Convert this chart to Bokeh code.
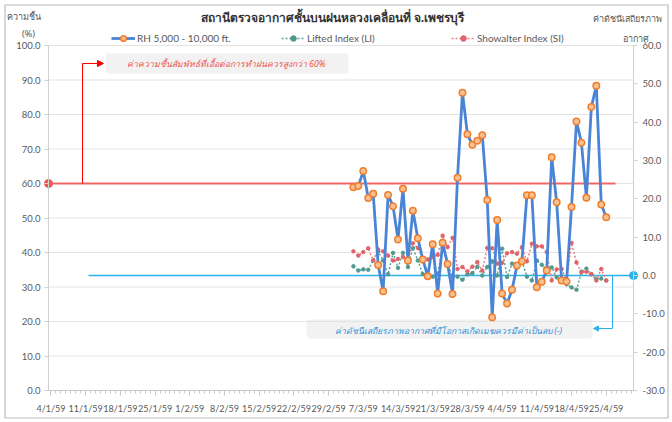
import pandas as pd
from bokeh.plotting import figure
from bokeh.models import (Range1d, LinearAxis, FixedTicker, NumeralTickFormatter,
                          Legend, LegendItem, Label, BoxAnnotation, Arrow,
                          NormalHead, ColumnDataSource)
from bokeh.embed import file_html
from bokeh.resources import INLINE

# ---------------- data ----------------
axis_start = "2016-01-04"          # 4/1/59 (B.E. 2559)
obs_dates = pd.date_range("2016-03-05", "2016-04-25")   # 5/3/59 .. 25/4/59, daily

rh = [58.9, 59.3, 63.6, 55.8, 57.0, 36.4, 28.8, 56.7, 53.4, 43.8,
      58.5, 37.7, 52.1, 44.1, 38.0, 33.1, 42.4, 28.1, 42.8, 36.7,
      28.0, 61.7, 86.3, 74.3, 71.2, 72.4, 74.0, 55.2, 21.2, 49.4,
      28.1, 25.2, 29.2, 36.2, 37.5, 56.6, 56.6, 29.9, 31.5, 34.8,
      67.6, 54.6, 31.9, 31.6, 53.2, 78.0, 71.8, 55.9, 82.2, 88.3,
      53.9, 50.2]

li = [2.4, 1.3, 1.6, 1.5, 3.9, 6.3, 3.9, 0.3, 5.9, 2.0,
      5.9, 2.2, 7.2, 3.9, 0.4, 0.0, -0.3, 0.4, 7.2, 3.1,
      -0.4, -0.3, -1.1, 0.3, 0.6, 2.3, 0.0, 2.2, 3.7, 0.0,
      7.0, -0.4, 3.1, 2.6, 3.7, -0.3, -1.3, 3.9, 2.8, 1.5,
      2.1, -0.5, -1.3, -2.3, -3.1, -3.7, 1.0, 1.8, 0.3, -0.9,
      -0.8, -1.3]

si = [6.3, 5.2, 6.1, 7.1, 3.9, 6.8, 6.3, 5.2, 3.9, 4.3,
      4.8, 4.1, 8.4, 7.2, 4.4, 4.2, 4.8, 5.4, 10.4, 7.4,
      9.8, 1.7, 2.2, 1.1, 2.3, 3.5, 1.3, 7.2, 7.1, 3.1,
      3.3, 5.8, 6.1, 5.7, 7.4, 3.7, 8.3, 7.6, 7.6, 6.1,
      -1.3, 1.6, 1.7, -1.3, 8.5, 3.4, 0.8, 1.0, 0.4, -1.3,
      1.7, -1.3]

tick_labels = ["4/1/59", "11/1/59", "18/1/59", "25/1/59", "1/2/59", "8/2/59",
               "15/2/59", "22/2/59", "29/2/59", "7/3/59", "14/3/59", "21/3/59",
               "28/3/59", "4/4/59", "11/4/59", "18/4/59", "25/4/59"]
left_ticks = [0, 10, 20, 30, 40, 50, 60, 70, 80, 90, 100]
right_ticks = [-30, -20, -10, 0, 10, 20, 30, 40, 50, 60]

rh_threshold = 60      # %
index_threshold = 0    # stability index

title_text = "สถานีตรวจอากาศชั้นบนฝนหลวงเคลื่อนที่ จ.เพชรบุรี"
note_rh = "ค่าความชื้นสัมพัทธ์ที่เอื้อต่อการทำฝนควรสูงกว่า  60%"
note_idx = "ค่าดัชนีเสถียรภาพอากาศที่มีโอกาสเกิดเมฆควรมีค่าเป็นลบ (-)"

# --------------- layout helpers (pixel layout of the 672x422 canvas) ---------------
W, H = 672, 422
FL, FR, FT, FB = 48, 633, 45, 390          # plot area edges in px
n_days = 118
XS = (FR - FL) / n_days                   # px per day
YS = (FB - FT) / 100.0                    # px per % (left)
RS = (FB - FT) / 90.0                     # px per index unit (right)
x_lo, x_hi = -0.5 - FL / XS, n_days - 0.5 + (W - FR) / XS
y_top, y_bot = FB / YS, -(H - FB) / YS
r_top, r_bot = -30 + FB / RS, -30 - (H - FB) / RS


def dx(px):
    return x_lo + px / XS


def dy(py):
    return y_top - py / YS


def dr(py):
    return r_top - py / RS


t0 = pd.Timestamp(axis_start)
xday = [(d - t0).days for d in obs_dates]
src = ColumnDataSource(dict(x=xday, rh=rh, li=li, si=si))

FONT = "Lato"
TH_FONT = "Noto Sans"
GREY = "#595959"
AX = "#d0d0d0"

p = figure(width=W, height=H, output_backend="svg", toolbar_location=None,
           x_range=Range1d(x_lo, x_hi), y_range=Range1d(y_bot, y_top),
           x_axis_type=None, y_axis_type=None, min_border=0,
           background_fill_color="white", border_fill_color="white")
p.outline_line_color = None
p.extra_y_ranges = {"idx": Range1d(r_bot, r_top)}

# chart border
p.quad(left=[dx(4.5)], right=[dx(667.5)], top=[dy(4.5)], bottom=[dy(417.5)],
       fill_color=None, line_color="#bdbdbd", line_width=1.2)

# horizontal gridlines (left axis ticks)
p.segment(x0=[-0.5] * len(left_ticks), x1=[n_days - 0.5] * len(left_ticks),
          y0=left_ticks, y1=left_ticks, line_color="#e3e3e3", line_width=1)

# x axis
xa = LinearAxis(fixed_location=0, bounds=(-0.5, n_days - 0.5),
                ticker=FixedTicker(ticks=[7 * i for i in range(len(tick_labels))],
                                   minor_ticks=list(range(0, n_days))))
xa.major_label_overrides = {7 * i: lab for i, lab in enumerate(tick_labels)}
xa.axis_line_color = "#c8c8c8"
xa.major_tick_line_color = "#c8c8c8"
xa.minor_tick_line_color = "#c8c8c8"
xa.major_tick_out = 5
xa.major_tick_in = 0
xa.minor_tick_out = 3
xa.minor_tick_in = 0
xa.major_label_standoff = 7
xa.major_label_text_font = FONT
xa.major_label_text_font_size = "9px"
xa.major_label_text_color = GREY
p.add_layout(xa, "below")

# left axis
ya = LinearAxis(fixed_location=-0.5, bounds=(0, 100), ticker=FixedTicker(ticks=left_ticks),
                formatter=NumeralTickFormatter(format="0.0"))
ya.axis_line_color = AX
ya.major_tick_line_color = AX
ya.major_tick_out = 4
ya.major_tick_in = 0
ya.minor_tick_line_color = None
ya.major_label_standoff = 4
ya.major_label_text_font = FONT
ya.major_label_text_font_size = "9.5px"
ya.major_label_text_color = GREY
p.add_layout(ya, "left")

# right axis
ra = LinearAxis(y_range_name="idx", fixed_location=n_days - 0.5, bounds=(-30, 60),
                ticker=FixedTicker(ticks=right_ticks),
                formatter=NumeralTickFormatter(format="0.0"))
ra.axis_line_color = AX
ra.major_tick_line_color = AX
ra.major_tick_out = 4
ra.major_tick_in = 0
ra.minor_tick_line_color = None
ra.major_label_standoff = 5
ra.major_label_text_font = FONT
ra.major_label_text_font_size = "9.5px"
ra.major_label_text_color = GREY
p.add_layout(ra, "right")

# ------------- reference lines -------------
RED = "#f25757"
BLUE = "#2cb2ea"
p.line(x=[-0.5, dx(615)], y=[rh_threshold, rh_threshold], line_color=RED, line_width=2,
       line_alpha=0.9)
p.scatter(x=[-0.5], y=[rh_threshold], size=8, color=RED)
p.line(x=[dx(88), n_days - 0.5], y=[index_threshold, index_threshold], y_range_name="idx",
       line_color=BLUE, line_width=1.6)
p.scatter(x=[n_days - 0.5], y=[index_threshold], y_range_name="idx", size=8, color=BLUE)

# ------------- notes -------------
p.add_layout(BoxAnnotation(left=dx(105), right=dx(348), bottom=dy(73), top=dy(53),
                           fill_color="#f2f2f2", fill_alpha=1, line_color=None,
                           border_radius=3, level="underlay"))
p.add_layout(Label(x=dx(227), y=dy(63), text=note_rh, text_font=TH_FONT, text_font_size="8.6px",
                   text_font_style="italic", text_color="#f04e4e",
                   text_align="center", text_baseline="middle"))
p.segment(x0=[dx(82)], y0=[rh_threshold], x1=[dx(82)], y1=[dy(63)], line_color="red",
          line_width=1)
p.add_layout(Arrow(x_start=dx(82), y_start=dy(63), x_end=dx(103), y_end=dy(63),
                   line_color="red", line_width=1,
                   end=NormalHead(size=6, fill_color="red", line_color="red")))

p.add_layout(BoxAnnotation(left=dx(306), right=dx(592), bottom=dr(338), top=dr(319),
                           y_range_name="idx", fill_color="#f2f2f2", fill_alpha=1,
                           line_color=None, border_radius=3, level="underlay"))
p.add_layout(Label(x=dx(448), y=dr(330), y_range_name="idx", text=note_idx, text_font=TH_FONT,
                   text_font_size="8.6px", text_font_style="italic", text_color="#2a8fd8",
                   text_align="center", text_baseline="middle"))
p.segment(x0=[dx(612)], y0=[index_threshold], x1=[dx(612)], y1=[dr(328)], y_range_name="idx",
          line_color=BLUE, line_width=1)
p.add_layout(Arrow(x_start=dx(612), y_start=dr(328), x_end=dx(593), y_end=dr(328),
                   y_range_name="idx", line_color=BLUE, line_width=1,
                   end=NormalHead(size=5, fill_color=BLUE, line_color=BLUE)))

# ------------- series -------------
li_line = p.line("x", "li", source=src, y_range_name="idx", line_color="#5aa59b",
                 line_width=1.5, line_dash="2 2")
li_pts = p.scatter("x", "li", source=src, y_range_name="idx", size=3.5, color="#4f9a8f")
si_line = p.line("x", "si", source=src, y_range_name="idx", line_color="#ec7f84",
                 line_width=1.5, line_dash="2 2")
si_pts = p.scatter("x", "si", source=src, y_range_name="idx", size=3.5, color="#e0636a")
rh_line = p.line("x", "rh", source=src, line_color="#4a84d6", line_width=2.8)
rh_pts = p.scatter("x", "rh", source=src, size=6.5, fill_color="#f9c08f",
                   line_color="#ee7d2e", line_width=1.5)

# ------------- titles -------------
p.add_layout(Label(x=dx(332), y=dy(17), text=title_text, text_font=TH_FONT,
                   text_font_size="12px", text_font_style="bold", text_color="#333333",
                   text_align="center", text_baseline="middle"))
p.add_layout(Label(x=dx(23), y=dy(16), text="ความชื้น", text_font=TH_FONT, text_font_size="9px",
                   text_color=GREY, text_align="center", text_baseline="middle"))
p.add_layout(Label(x=dx(28), y=dy(33), text="(%)", text_font=TH_FONT, text_font_size="9px",
                   text_color=GREY, text_align="center", text_baseline="middle"))
p.add_layout(Label(x=dx(627), y=dy(18), text="ค่าดัชนีเสถียรภาพ", text_font=TH_FONT,
                   text_font_size="9px", text_color=GREY, text_align="center",
                   text_baseline="middle"))
p.add_layout(Label(x=dx(635), y=dy(38), text="อากาศ", text_font=TH_FONT, text_font_size="9px",
                   text_color=GREY, text_align="center", text_baseline="middle"))

# ------------- legend -------------
legend = Legend(items=[LegendItem(label="RH 5,000 - 10,000 ft.", renderers=[rh_line, rh_pts]),
                       LegendItem(label="Lifted Index (LI)", renderers=[li_line, li_pts]),
                       LegendItem(label="Showalter Index (SI)", renderers=[si_line, si_pts])],
                orientation="horizontal", location=(111, H - 45), padding=0, margin=0,
                spacing=4, glyph_width=24, glyph_height=14, label_height=14,
                label_width=140, label_standoff=2, border_line_color=None,
                background_fill_alpha=0, label_text_font=FONT,
                label_text_font_size="10px", label_text_color=GREY)
p.add_layout(legend, "center")

open("out.html", "w").write(file_html(p, INLINE))
